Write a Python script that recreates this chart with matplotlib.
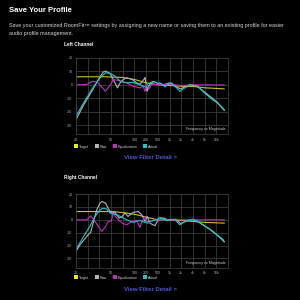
import numpy as np
import matplotlib
matplotlib.use("Agg")
import matplotlib.pyplot as plt
from matplotlib.lines import Line2D

plt.rcParams["font.family"] = ["Liberation Sans", "DejaVu Sans"]
plt.rcParams["axes.unicode_minus"] = False

# grid frequencies of the (non-uniform) x axis
FREQ_GRID = [20, 30, 40, 50, 70, 100, 200, 500, 1000, 2000, 4000, 8000, 16000, 20000]
FREQ_LABELS = ["20", "", "", "50", "", "100", "200", "500", "1k", "2k", "4k", "8k", "16k", ""]
DB_TICKS = [-30, -20, -10, 0, 10, 20]

SERIES = ["Target", "Raw", "Equalization", "Actual"]
COLORS = {"Target": "#c4c42a", "Raw": "#b4b4b4", "Equalization": "#c02cc0", "Actual": "#22c4c8"}

# Left channel
L_TGT_F = [20, 45, 70, 100, 200, 500, 1000, 2000, 4000, 8000, 18600]
L_TGT_DB = [6, 6, 5.5, 4, 1.5, 0, -0.5, -1, -1.2, -2.2, -3]
L_RAW_F = [20, 26, 34, 39, 43, 45, 49, 56, 60, 65, 71, 79, 93, 114, 139, 175, 187, 216, 258,
           366, 500, 680, 1020, 1460, 1960, 2640, 4000, 5400, 7700, 10900, 16300, 18600]
L_RAW_DB = [-26, -15, -3.5, 4, 9.5, 10.2, 8.5, 1.5, -2.3, 1.5, 4, 5.2, 4, 1.5, 0.5, 4, 5.5, -4.8, 0,
            2.5, 1, 0, 1.5, -1.5, -3, -1, 0, -1.5, -5, -8.5, -13, -19]
L_EQ_F = [20, 29, 34, 38, 45, 51, 53, 62, 79, 95, 139, 166, 187, 213, 249, 316, 566, 1000, 2000, 4000, 18600]
L_EQ_DB = [0, 0.3, 2.7, 2, -4.8, 1.5, 4, 3.2, 1.5, -1, -2.3, -1, -4.8, 1, -3, 0.5, 0, 0.5, -0.5, 0, 0]
L_ACT_F = [20, 26, 34, 40.5, 45, 49, 56, 65, 79, 95, 139, 229, 268, 349, 500, 566, 680, 758, 927,
           1130, 1380, 1850, 2250, 2750, 3340, 4080, 5460, 6690, 9000, 12100, 16300, 17650, 18600]
L_ACT_DB = [-23.5, -13.5, -2.3, 5.2, 9, 8.5, 6.5, 2.7, 1.5, 1.8, 0, -2.3, 1.5, 2.7, 1, 1.5, 0.2, -1.5, 0.2,
            1.5, -1, -4.8, -3, -1.5, 0.2, -0.5, -1, -4, -7.3, -10.5, -13.5, -16, -18.5]

# Right channel
R_TGT_F = [20, 53, 79, 114, 268, 510, 1000, 2000, 4000, 8000, 18600]
R_TGT_DB = [6.4, 6.4, 5.2, 3.9, 1.3, 0, 0, -0.5, -1.3, -2, -2.6]
R_RAW_F = [20, 22.9, 30.4, 32.3, 35, 37.5, 40.5, 42, 45, 47.3, 50.5, 56, 63, 68.8, 75, 82, 96, 125, 154,
           187, 216, 268, 396, 510, 680, 1000, 1460, 1960, 2640, 4000, 5400, 7700, 10900, 16300, 18600]
R_RAW_DB = [-24.5, -19.4, -11.6, -9.8, 0, 7.8, 12.9, 14.2, 12.9, 9, 5.2, 5.7, 1.3, 2.6, 5.2, 2.6, 5.7, 6.4, 3.9,
            -1.3, 2.6, -2.6, -4.6, 0, 1.5, -0.5, 0.5, -3, -1, 0.5, -1.5, -4.5, -7.5, -12, -17]
R_EQ_F = [20, 29, 32.3, 35, 39, 42, 45, 47.3, 50.5, 53, 59, 68.8, 79, 92, 114, 139, 154, 187, 216, 268, 400, 1000, 18600]
R_EQ_DB = [0, 0, 3, 0, -5.2, -9, -5.2, -1.3, -1, 5.2, 1.3, -2.6, -3.9, -1.3, -0.5, -6, -1.5, 2.6, -3, -1.3, 0, 0, 0]
R_ACT_F = [20, 26, 31.6, 36, 40.5, 43, 46, 49, 53, 59, 65, 79, 96, 139, 187, 268, 455, 566, 688, 841,
           1130, 1380, 1850, 2500, 3340, 4080, 5460, 7360, 9850, 13270, 16600, 18300, 18600]
R_ACT_DB = [-23, -13, -5.2, 2.6, 7.8, 9, 8.3, 5.2, 4.6, 3.9, 2.6, 0, -2, -0.5, -2, -1.3, 0, 2, 0.5, -0.5,
            0.5, 0, -3.9, -1.3, -0.5, 0, -1.3, -3.9, -6.4, -9, -12.4, -15.5, -17.3]

LOG_GRID = np.log10(FREQ_GRID)
IDX_GRID = np.arange(len(FREQ_GRID))


def fwd(f):
    # piecewise-log mapping: every grid frequency gets the same width
    f = np.clip(np.asarray(f, dtype=float), 1, None)
    return np.interp(np.log10(f), LOG_GRID, IDX_GRID)


def inv(i):
    return 10 ** np.interp(i, IDX_GRID, LOG_GRID)


def draw_channel(ax, data):
    ax.set_facecolor("black")
    for name in SERIES:
        f, db = data[name]
        ax.plot(f, db, color=COLORS[name], lw=0.8)
    ax.set_xscale("function", functions=(fwd, inv))
    ax.set_xlim(20, 20000)
    ax.set_ylim(-37, 20)
    ax.set_xticks(FREQ_GRID)
    ax.set_xticklabels(FREQ_LABELS)
    ax.set_yticks(DB_TICKS)
    ax.minorticks_off()
    ax.grid(True, color="#3a3a3a", lw=0.6)
    ax.tick_params(length=0, labelsize=2.6, colors="#b0b0b0", pad=2.5)
    for s in ax.spines.values():
        s.set_color("#3a3a3a")
        s.set_linewidth(0.6)
    ax.text(0.985, 0.04, "Frequency vs Magnitude", transform=ax.transAxes,
            ha="right", va="bottom", fontsize=2.6, color="#d0d0d0")


fig = plt.figure(figsize=(3, 3), dpi=100, facecolor="black")

fig.text(9 / 300, 1 - 11 / 300, "Save Your Profile", color="white", fontsize=5.6,
         fontweight="bold", va="center", ha="left")
fig.text(9 / 300, 1 - 26 / 300,
         "Save your customized RoomFit\u2122 settings by assigning a new name or saving them to an existing profile for easier",
         color="#d8d8d8", fontsize=3.9, va="center", ha="left")
fig.text(9 / 300, 1 - 33.3 / 300, "audio profile management.",
         color="#d8d8d8", fontsize=3.9, va="center", ha="left")

panels = [
    ("Left Channel", 45, [76 / 300, 1 - 134.5 / 300, 152 / 300, 76.5 / 300], 146.7, 158,
     {"Target": (L_TGT_F, L_TGT_DB), "Raw": (L_RAW_F, L_RAW_DB),
      "Equalization": (L_EQ_F, L_EQ_DB), "Actual": (L_ACT_F, L_ACT_DB)}),
    ("Right Channel", 177, [76 / 300, 1 - 267.5 / 300, 152 / 300, 73.5 / 300], 277.7, 289.3,
     {"Target": (R_TGT_F, R_TGT_DB), "Raw": (R_RAW_F, R_RAW_DB),
      "Equalization": (R_EQ_F, R_EQ_DB), "Actual": (R_ACT_F, R_ACT_DB)}),
]

for title, ty, rect, ly, vy, data in panels:
    fig.text(64 / 300, 1 - ty / 300, title, color="white", fontsize=3.4,
             fontweight="bold", va="center", ha="left")
    ax = fig.add_axes(rect)
    draw_channel(ax, data)
    handles = [Line2D([], [], marker="s", ls="none", markersize=2.4,
                      markerfacecolor=COLORS[n] if n != "Target" else "#e8e820",
                      markeredgewidth=0) for n in SERIES]
    fig.legend(handles, SERIES, loc="center left", bbox_to_anchor=(75 / 300, 1 - ly / 300),
               ncol=4, frameon=False, fontsize=2.6, labelcolor="#d0d0d0",
               handlelength=0.8, handletextpad=0.4, columnspacing=1.7, borderpad=0,
               borderaxespad=0)
    fig.text(0.5, 1 - vy / 300, "View Filter Detail >", color="#5058d0", fontsize=4.3,
             fontweight="bold", va="center", ha="center")

fig.savefig("out.png", dpi=100, facecolor="black")
